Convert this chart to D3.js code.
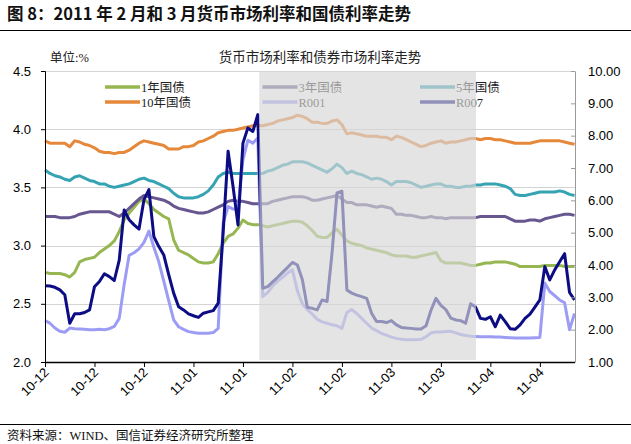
<!DOCTYPE html>
<html>
<head>
<meta charset="utf-8">
<script src="https://cdn.jsdelivr.net/npm/d3@7"></script>
<style>
  body { margin: 0; background: #fff; }
  svg { display: block; }
</style>
</head>
<body>
<div id="chart"></div>
<script>
// *** data (one value per trading day, index 0..107) ***
var tickLabels = ["10-12", "10-12", "10-12", "11-01", "11-01", "11-02", "11-02", "11-03", "11-03", "11-04", "11-04"];
var leftTicks = [2.0, 2.5, 3.0, 3.5, 4.0, 4.5];
var rightTicks = [1, 2, 3, 4, 5, 6, 7, 8, 9, 10];
var shadeSpan = [43.3, 87.1]; // Feb - Mar, in day index

var bond1y = [
  2.77, 2.76, 2.76, 2.76, 2.75, 2.73, 2.77, 2.86, 2.88, 2.89, 2.90, 2.94, 2.97, 3.00, 3.04, 3.12, 3.22, 3.28, 3.33, 3.38, 3.40, 3.36, 3.31, 3.28, 3.25, 3.23, 3.05, 2.96,
  2.94, 2.92, 2.89, 2.86, 2.85, 2.85, 2.86, 2.93, 3.02, 3.08, 3.10, 3.15, 3.22, 3.19, 3.18, 3.18, 3.17, 3.16, 3.17, 3.18, 3.19, 3.20, 3.21, 3.21, 3.20, 3.17, 3.13,
  3.08, 3.07, 3.07, 3.11, 3.14, 3.09, 3.04, 3.02, 3.01, 3.00, 2.98, 2.97, 2.96, 2.95, 2.94, 2.92, 2.91, 2.91, 2.91, 2.90, 2.90, 2.91, 2.92, 2.93, 2.94, 2.87, 2.85,
  2.85, 2.85, 2.85, 2.84, 2.83, 2.83, 2.84, 2.85, 2.85, 2.86, 2.86, 2.86, 2.85, 2.84, 2.82, 2.82, 2.82, 2.82, 2.82, 2.83, 2.83, 2.83, 2.83, 2.82, 2.82, 2.82
];
var bond3y = [
  3.25, 3.25, 3.25, 3.24, 3.24, 3.24, 3.25, 3.27, 3.28, 3.29, 3.29, 3.29, 3.29, 3.29, 3.27, 3.25, 3.28, 3.32, 3.36, 3.40, 3.43, 3.42, 3.41, 3.40, 3.39, 3.37, 3.34, 3.32,
  3.31, 3.30, 3.29, 3.28, 3.28, 3.29, 3.31, 3.33, 3.35, 3.38, 3.39, 3.38, 3.38, 3.37, 3.36, 3.36, 3.36, 3.36, 3.38, 3.39, 3.40, 3.41, 3.42, 3.42, 3.42, 3.41, 3.39,
  3.39, 3.40, 3.41, 3.42, 3.43, 3.40, 3.37, 3.37, 3.35, 3.35, 3.35, 3.34, 3.33, 3.34, 3.33, 3.32, 3.27, 3.27, 3.26, 3.26, 3.25, 3.24, 3.24, 3.25, 3.24, 3.24, 3.23,
  3.24, 3.24, 3.24, 3.24, 3.24, 3.24, 3.25, 3.25, 3.25, 3.25, 3.25, 3.25, 3.23, 3.21, 3.21, 3.21, 3.22, 3.22, 3.21, 3.23, 3.24, 3.25, 3.26, 3.27, 3.27, 3.26
];
var bond5y = [
  3.65, 3.62, 3.60, 3.59, 3.57, 3.56, 3.59, 3.60, 3.58, 3.56, 3.55, 3.53, 3.53, 3.51, 3.50, 3.51, 3.52, 3.53, 3.55, 3.57, 3.58, 3.56, 3.55, 3.53, 3.51, 3.49, 3.45, 3.42,
  3.41, 3.41, 3.41, 3.42, 3.44, 3.47, 3.52, 3.59, 3.62, 3.63, 3.62, 3.62, 3.62, 3.62, 3.62, 3.62, 3.62, 3.64, 3.65, 3.67, 3.69, 3.70, 3.72, 3.72, 3.72, 3.71, 3.69,
  3.67, 3.65, 3.63, 3.66, 3.70, 3.67, 3.62, 3.64, 3.62, 3.61, 3.59, 3.57, 3.58, 3.57, 3.55, 3.52, 3.55, 3.55, 3.55, 3.54, 3.52, 3.50, 3.51, 3.52, 3.53, 3.53, 3.51,
  3.51, 3.50, 3.50, 3.51, 3.51, 3.52, 3.52, 3.53, 3.53, 3.53, 3.52, 3.51, 3.49, 3.44, 3.43, 3.43, 3.44, 3.45, 3.46, 3.46, 3.46, 3.46, 3.47, 3.46, 3.44, 3.43
];
var bond10y = [
  3.90, 3.88, 3.88, 3.88, 3.88, 3.85, 3.90, 3.89, 3.87, 3.86, 3.84, 3.81, 3.80, 3.80, 3.79, 3.80, 3.80, 3.82, 3.85, 3.88, 3.90, 3.89, 3.88, 3.87, 3.86, 3.83, 3.83, 3.83,
  3.85, 3.85, 3.86, 3.89, 3.90, 3.92, 3.94, 3.97, 3.98, 3.99, 3.99, 4.00, 4.01, 4.02, 4.03, 4.03, 4.03, 4.04, 4.05, 4.07, 4.08, 4.09, 4.10, 4.12, 4.11, 4.09, 4.06,
  4.06, 4.05, 4.05, 4.07, 4.08, 4.04, 3.96, 3.97, 3.96, 3.95, 3.94, 3.94, 3.94, 3.93, 3.93, 3.91, 3.94, 3.93, 3.91, 3.89, 3.87, 3.85, 3.86, 3.88, 3.89, 3.90, 3.88,
  3.89, 3.89, 3.90, 3.91, 3.92, 3.92, 3.91, 3.92, 3.92, 3.91, 3.91, 3.90, 3.89, 3.88, 3.88, 3.88, 3.88, 3.89, 3.90, 3.90, 3.90, 3.90, 3.90, 3.89, 3.88, 3.87
];
var r001 = [
  2.28, 2.20, 2.05, 1.95, 1.92, 2.05, 2.03, 2.02, 2.01, 2.00, 2.00, 2.01, 2.00, 2.03, 2.10, 2.35, 3.40, 4.30, 4.38, 4.50, 4.70, 5.05, 4.55, 4.10, 3.50, 2.90, 2.30, 2.09,
  2.01, 1.94, 1.91, 1.89, 1.89, 1.89, 1.91, 2.04, 5.30, 5.81, 5.73, 5.73, 7.26, 7.86, 7.77, 7.93, 3.02, 3.15, 3.35, 3.50, 3.62, 3.75, 3.85, 3.20, 2.80, 2.62, 2.48,
  2.32, 2.24, 2.20, 2.15, 2.12, 2.04, 2.53, 2.62, 2.50, 2.35, 2.20, 2.05, 1.97, 1.88, 1.83, 1.77, 1.73, 1.70, 1.69, 1.69, 1.69, 1.70, 1.78, 1.90, 1.93, 1.93, 1.94,
  1.95, 1.90, 1.85, 1.82, 1.80, 1.79, 1.78, 1.78, 1.78, 1.77, 1.77, 1.76, 1.75, 1.74, 1.74, 1.74, 1.74, 1.75, 1.76, 3.44, 3.18, 3.05, 2.92, 2.83, 2.00, 2.50
];
var r007 = [
  3.36, 3.35, 3.31, 3.23, 3.08, 2.20, 2.49, 2.49, 2.53, 2.61, 3.33, 3.49, 3.73, 3.64, 3.52, 4.15, 5.70, 5.40, 5.24, 5.11, 6.02, 6.33, 4.88, 4.57, 4.31, 3.70, 3.13, 2.71,
  2.61, 2.49, 2.43, 2.38, 2.51, 2.55, 2.59, 2.82, 5.00, 7.52, 6.43, 5.24, 7.77, 8.24, 8.13, 8.65, 3.28, 3.33, 3.48, 3.62, 3.77, 3.92, 4.08, 4.00, 3.55, 2.69, 2.66,
  2.61, 2.92, 2.87, 4.37, 6.23, 6.28, 3.23, 3.13, 3.07, 3.02, 2.97, 2.51, 2.25, 2.25, 2.22, 2.28, 2.15, 2.07, 2.05, 2.04, 2.02, 2.02, 2.12, 2.60, 2.97, 2.75, 2.62,
  2.36, 2.30, 2.28, 2.20, 2.80, 2.70, 2.35, 2.32, 2.40, 2.09, 2.45, 2.25, 2.03, 2.01, 2.15, 2.35, 2.48, 2.70, 2.92, 3.95, 3.54, 3.85, 4.10, 4.35, 3.15, 2.92
];

// series in drawing order, axis: 'left' = 国债 (%), 'right' = 回购利率
var series = [
  {name: "1年国债",  values: bond1y,  axis: "left",  color: "#96b651"},
  {name: "3年国债",  values: bond3y,  axis: "left",  color: "#67568f"},
  {name: "5年国债",  values: bond5y,  axis: "left",  color: "#36a3b3"},
  {name: "10年国债", values: bond10y, axis: "left",  color: "#e6883a"},
  {name: "R001",     values: r001,    axis: "right", color: "#9c9cf5"},
  {name: "R007",     values: r007,    axis: "right", color: "#0c0c84"}
];

// *** layout ***
var W = 631, H = 444;
var margin = {top: 71, bottom: 82, left: 45, right: 56};
var pw = W - margin.left - margin.right,
    ph = H - margin.top - margin.bottom;

var svg = d3.select("#chart").append("svg")
    .attr("width", W)
    .attr("height", H);

var cjk = "'Noto Sans CJK SC', sans-serif";
var serifCjk = "'Liberation Serif', 'Noto Sans CJK SC', serif";
var numFont = "'Liberation Sans', Arial, sans-serif";

// header
svg.append("text")
    .attr("x", 7).attr("y", 20)
    .style("font-family", cjk).style("font-weight", 700).style("font-size", "16.5px")
    .style("fill", "#111")
    .text("图 8：2011 年 2 月和 3 月货币市场利率和国债利率走势");
svg.append("line")
    .attr("x1", 0).attr("x2", W).attr("y1", 30.5).attr("y2", 30.5)
    .style("stroke", "#000").style("stroke-width", 1);

// footer
svg.append("line")
    .attr("x1", 0).attr("x2", W).attr("y1", 424.5).attr("y2", 424.5)
    .style("stroke", "#000").style("stroke-width", 1);
svg.append("text")
    .attr("x", 7).attr("y", 440)
    .style("font-family", serifCjk).style("font-size", "12.5px").style("fill", "#111")
    .text("资料来源：WIND、国信证券经济研究所整理");

// *** scales ***
var x = d3.scaleLinear().domain([0, r007.length - 1]).range([0, pw - 0.5]);
var yL = d3.scaleLinear().domain([2, 4.5]).range([ph, 0]);
var yR = d3.scaleLinear().domain([1, 10]).range([ph, 0]);

var plot = svg.append("g")
    .attr("transform", "translate(" + margin.left + "," + margin.top + ")");

// captions above the plot
plot.append("text")
    .attr("x", 5).attr("y", -9)
    .style("font-family", serifCjk).style("font-size", "12.5px").style("fill", "#222")
    .text("单位:%");
plot.append("text")
    .attr("x", pw / 2 + 10).attr("y", -9)
    .attr("text-anchor", "middle")
    .style("font-family", serifCjk).style("font-size", "13.5px").style("fill", "#222")
    .text("货币市场利率和债券市场利率走势");

// gridlines
plot.append("g").selectAll("line")
    .data(leftTicks.filter(function(d) { return d > 2; }))
    .enter().append("line")
    .attr("x1", 0).attr("x2", pw)
    .attr("y1", function(d) { return Math.round(yL(d)) + 0.5; })
    .attr("y2", function(d) { return Math.round(yL(d)) + 0.5; })
    .style("stroke", "#d4d4d4").style("stroke-width", 1);

// lines
var line = function(s) {
    var y = s.axis == "left" ? yL : yR;
    return d3.line()
        .x(function(d, i) { return x(i); })
        .y(function(d) { return y(d); })(s.values);
};

plot.append("g").selectAll("path")
    .data(series)
    .enter().append("path")
    .attr("d", line)
    .style("fill", "none")
    .style("stroke", function(s) { return s.color; })
    .style("stroke-width", 3)
    .style("stroke-linejoin", "round");

// legend (3 columns x 2 rows)
var lg = plot.append("g").attr("transform", "translate(60,16)");
var item = lg.selectAll("g")
    .data(series)
    .enter().append("g")
    .attr("transform", function(s, i) {
        return "translate(" + ((i % 3) * 157.5) + "," + (Math.floor(i / 3) * 15) + ")";
    });
item.append("line")
    .attr("x1", 0).attr("x2", 35)
    .style("stroke", function(s) { return s.color; })
    .style("stroke-width", 3.5);
item.append("text")
    .attr("x", 36).attr("dy", "0.36em")
    .style("font-family", serifCjk).style("font-size", "12.5px").style("fill", "#222")
    .text(function(s) { return s.name; });

// shaded period, drawn over the lines so they fade
plot.append("rect")
    .attr("x", x(shadeSpan[0]))
    .attr("width", x(shadeSpan[1]) - x(shadeSpan[0]))
    .attr("y", yL(4.5) + 1)
    .attr("height", yL(2) - yL(4.5) - 3)
    .style("fill", "#d6d6d6")
    .style("fill-opacity", 0.66);

// *** axes ***
var axisL = plot.append("g")
    .call(d3.axisLeft(yL).tickValues(leftTicks).tickFormat(d3.format(".1f"))
        .tickSize(4).tickPadding(10));
axisL.select(".domain").style("stroke", "#000");

var axisR = plot.append("g")
    .attr("transform", "translate(" + pw + ",0)")
    .call(d3.axisRight(yR).tickValues(rightTicks).tickFormat(d3.format(".2f"))
        .tickSizeInner(-4).tickSizeOuter(0).tickPadding(13));
axisR.select(".domain").style("stroke", "#9a9a9a");
axisR.selectAll(".tick line").style("stroke", "#9a9a9a");

var axisB = plot.append("g")
    .attr("transform", "translate(0," + ph + ")")
    .call(d3.axisBottom(x).tickValues(d3.range(0, r007.length, 10))
        .tickFormat(function(d) { return tickLabels[d / 10]; })
        .tickSizeInner(5).tickSizeOuter(0));
axisB.select(".domain").style("stroke", "#000").style("stroke-width", 1.5);
axisB.selectAll(".tick text")
    .attr("x", 0).attr("y", 0).attr("dy", "0.35em")
    .attr("transform", "translate(1,8) rotate(-45)")
    .style("text-anchor", "end");

svg.selectAll(".tick text")
    .style("font-family", numFont)
    .style("font-size", "13px")
    .style("fill", "#000");
</script>
</body>
</html>
